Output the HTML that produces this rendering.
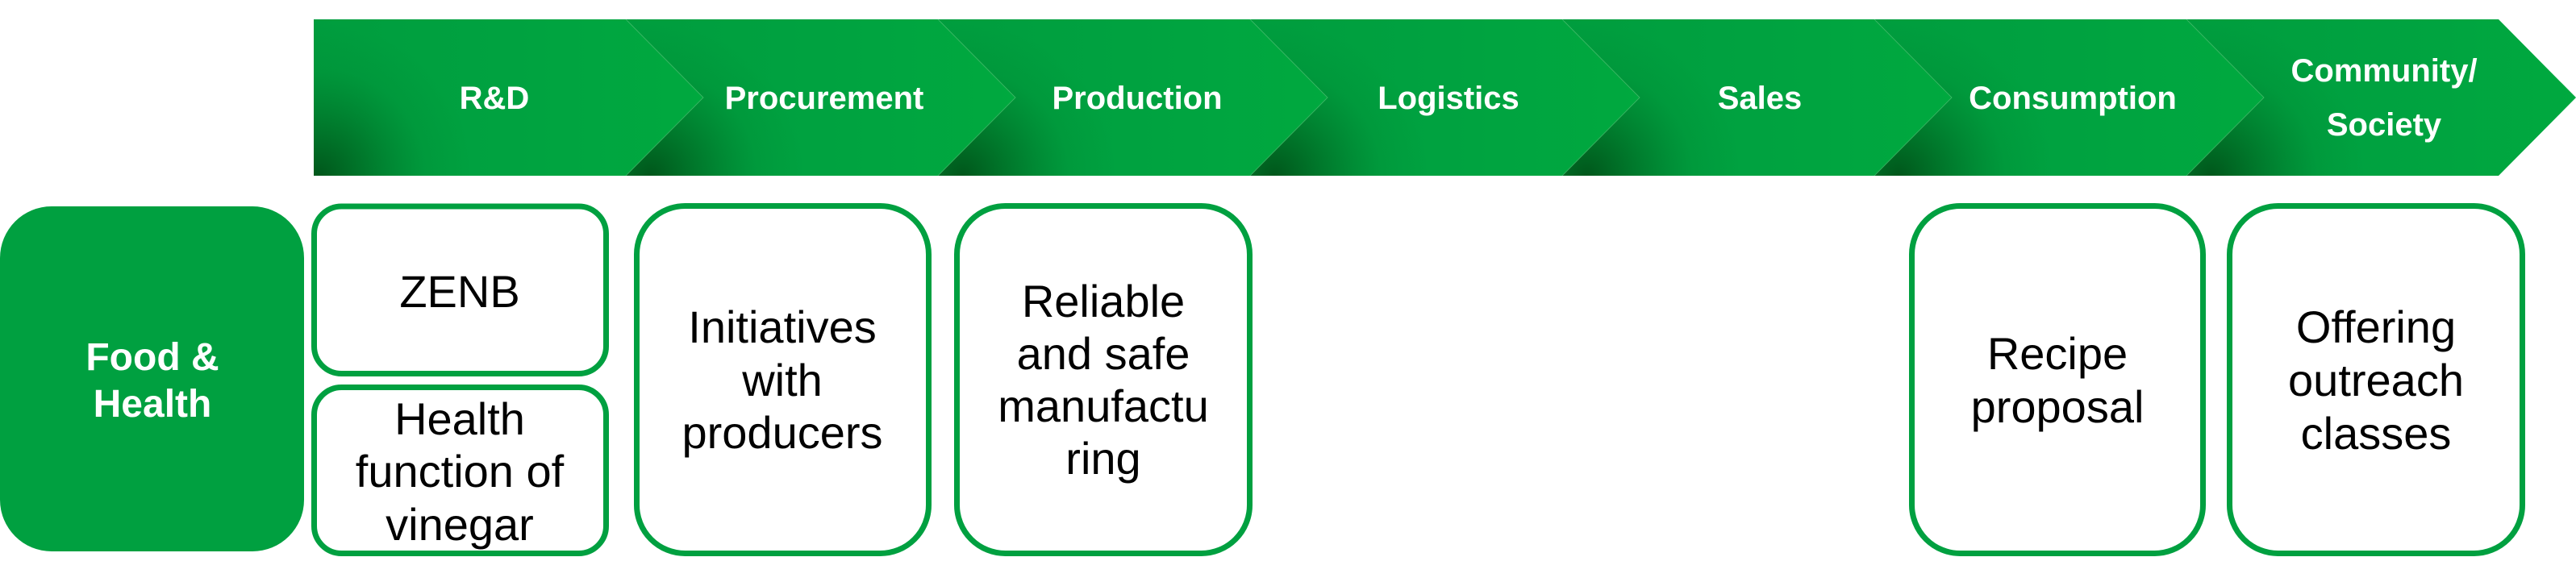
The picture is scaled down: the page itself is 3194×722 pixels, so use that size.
<!DOCTYPE html>
<html>
<head>
<meta charset="utf-8">
<style>
  html, body { margin: 0; padding: 0; background: #ffffff; }
  body { width: 3194px; height: 722px; overflow: hidden; }
  svg { display: block; }
  .lbl { font-family: "Liberation Sans", Arial, sans-serif; font-weight: bold; font-size: 40px; fill: #ffffff; }
  .box { font-family: "Liberation Sans", Arial, sans-serif; font-size: 56px; fill: #000000; }
  .fh { font-family: "Liberation Sans", Arial, sans-serif; font-weight: bold; font-size: 48px; fill: #ffffff; }
</style>
</head>
<body>
<svg width="3194" height="722" viewBox="0 0 3194 722" xmlns="http://www.w3.org/2000/svg">
  <defs>
    <linearGradient id="base" x1="0" y1="0" x2="1" y2="0">
      <stop offset="0" stop-color="#009d3e"/>
      <stop offset="0.5" stop-color="#00a240"/>
      <stop offset="1" stop-color="#00a93f"/>
    </linearGradient>
    <radialGradient id="s0" gradientUnits="userSpaceOnUse" cx="395" cy="218" r="190">
      <stop offset="0" stop-color="#004f17" stop-opacity="0.9"/>
      <stop offset="0.35" stop-color="#005a1c" stop-opacity="0.5"/>
      <stop offset="0.7" stop-color="#006a25" stop-opacity="0.12"/>
      <stop offset="1" stop-color="#006a25" stop-opacity="0"/>
    </radialGradient>
    <radialGradient id="s1" href="#s0" xlink:href="#s0" cx="806" cy="218" r="190" xmlns:xlink="http://www.w3.org/1999/xlink"/>
    <radialGradient id="s2" href="#s0" xlink:href="#s0" cx="1193" cy="218" r="190" xmlns:xlink="http://www.w3.org/1999/xlink"/>
    <radialGradient id="s3" href="#s0" xlink:href="#s0" cx="1580" cy="218" r="190" xmlns:xlink="http://www.w3.org/1999/xlink"/>
    <radialGradient id="s4" href="#s0" xlink:href="#s0" cx="1967" cy="218" r="190" xmlns:xlink="http://www.w3.org/1999/xlink"/>
    <radialGradient id="s5" href="#s0" xlink:href="#s0" cx="2354" cy="218" r="190" xmlns:xlink="http://www.w3.org/1999/xlink"/>
    <radialGradient id="s6" href="#s0" xlink:href="#s0" cx="2741" cy="218" r="190" xmlns:xlink="http://www.w3.org/1999/xlink"/>
  </defs>

  <!-- Chevron banner -->
  <polygon points="389,24 776,24 872,121 776,218 389,218" fill="url(#base)"/>
  <polygon points="389,24 776,24 872,121 776,218 389,218" fill="url(#s0)"/>
  <polygon points="776,24 1163,24 1259,121 1163,218 776,218 872,121" fill="url(#base)"/>
  <polygon points="776,24 1163,24 1259,121 1163,218 776,218 872,121" fill="url(#s1)"/>
  <polygon points="1163,24 1550,24 1646,121 1550,218 1163,218 1259,121" fill="url(#base)"/>
  <polygon points="1163,24 1550,24 1646,121 1550,218 1163,218 1259,121" fill="url(#s2)"/>
  <polygon points="1550,24 1937,24 2033,121 1937,218 1550,218 1646,121" fill="url(#base)"/>
  <polygon points="1550,24 1937,24 2033,121 1937,218 1550,218 1646,121" fill="url(#s3)"/>
  <polygon points="1937,24 2324,24 2420,121 2324,218 1937,218 2033,121" fill="url(#base)"/>
  <polygon points="1937,24 2324,24 2420,121 2324,218 1937,218 2033,121" fill="url(#s4)"/>
  <polygon points="2324,24 2711,24 2807,121 2711,218 2324,218 2420,121" fill="url(#base)"/>
  <polygon points="2324,24 2711,24 2807,121 2711,218 2324,218 2420,121" fill="url(#s5)"/>
  <polygon points="2711,24 3098,24 3194,121 3098,218 2711,218 2807,121" fill="url(#base)"/>
  <polygon points="2711,24 3098,24 3194,121 3098,218 2711,218 2807,121" fill="url(#s6)"/>

  <!-- seams -->
  <g stroke="#4cc070" stroke-width="1" stroke-opacity="0.6" fill="none">
    <polyline points="776,24 872,121 776,218"/>
    <polyline points="1163,24 1259,121 1163,218"/>
    <polyline points="1550,24 1646,121 1550,218"/>
    <polyline points="1937,24 2033,121 1937,218"/>
    <polyline points="2324,24 2420,121 2324,218"/>
    <polyline points="2711,24 2807,121 2711,218"/>
  </g>

  <!-- Chevron labels -->
  <text class="lbl" x="613" y="135" text-anchor="middle">R&amp;D</text>
  <text class="lbl" x="1022" y="135" text-anchor="middle">Procurement</text>
  <text class="lbl" x="1410" y="135" text-anchor="middle">Production</text>
  <text class="lbl" x="1796" y="135" text-anchor="middle">Logistics</text>
  <text class="lbl" x="2182" y="135" text-anchor="middle">Sales</text>
  <text class="lbl" x="2570" y="135" text-anchor="middle">Consumption</text>
  <text class="lbl" x="2956" y="101" text-anchor="middle">Community/</text>
  <text class="lbl" x="2956" y="168" text-anchor="middle">Society</text>

  <!-- Food & Health -->
  <rect x="0" y="256" width="377" height="428" rx="64" ry="64" fill="#00a040"/>
  <text class="fh" x="189" y="459" text-anchor="middle">Food &amp;</text>
  <text class="fh" x="189" y="517" text-anchor="middle">Health</text>

  <!-- Outlined boxes -->
  <g fill="#ffffff" stroke="#00a040" stroke-width="7">
    <rect x="389.5" y="256" width="362" height="207.5" rx="34" ry="34"/>
    <rect x="389.5" y="480.5" width="362" height="206" rx="34" ry="34"/>
    <rect x="789.5" y="255.5" width="362" height="431" rx="60" ry="60"/>
    <rect x="1186.5" y="255.5" width="363" height="431" rx="60" ry="60"/>
    <rect x="2370.5" y="255.5" width="361" height="431" rx="60" ry="60"/>
    <rect x="2764.5" y="255.5" width="363" height="431" rx="60" ry="60"/>
  </g>

  <!-- Box texts -->
  <text class="box" x="570" y="381" text-anchor="middle">ZENB</text>

  <text class="box" x="570" y="539" text-anchor="middle">Health</text>
  <text class="box" x="570" y="604" text-anchor="middle">function of</text>
  <text class="box" x="570" y="670" text-anchor="middle">vinegar</text>

  <text class="box" x="970" y="425" text-anchor="middle">Initiatives</text>
  <text class="box" x="970" y="491" text-anchor="middle">with</text>
  <text class="box" x="970" y="556" text-anchor="middle">producers</text>

  <text class="box" x="1368" y="393" text-anchor="middle">Reliable</text>
  <text class="box" x="1368" y="458" text-anchor="middle">and safe</text>
  <text class="box" x="1368" y="523" text-anchor="middle">manufactu</text>
  <text class="box" x="1368" y="588" text-anchor="middle">ring</text>

  <text class="box" x="2551" y="458" text-anchor="middle">Recipe</text>
  <text class="box" x="2551" y="524" text-anchor="middle">proposal</text>

  <text class="box" x="2946" y="425" text-anchor="middle">Offering</text>
  <text class="box" x="2946" y="491" text-anchor="middle">outreach</text>
  <text class="box" x="2946" y="557" text-anchor="middle">classes</text>
</svg>
</body>
</html>
